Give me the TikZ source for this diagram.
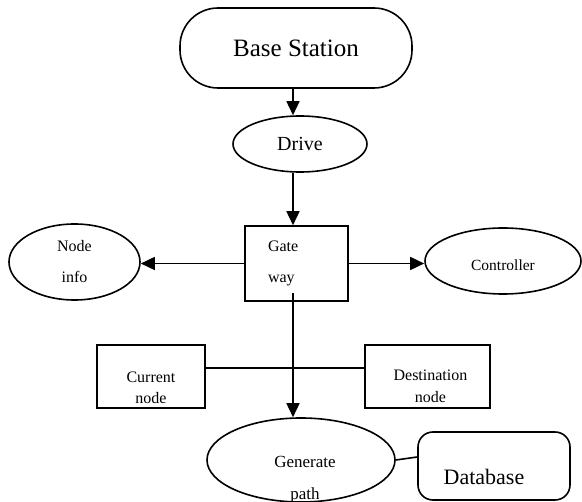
\documentclass[tikz,border=0pt]{standalone}
\usepackage{fontspec}
\setmainfont{Liberation Serif}
\usetikzlibrary{positioning,shapes.geometric,arrows.meta}

\begin{document}
\begin{tikzpicture}[x=1pt,y=1pt]
		\tikzstyle{every node}+=[inner sep=0pt]
		\tikzstyle{outline}=[draw=black, line width=1.6pt]
		\tikzstyle{oval}=[outline, ellipse]
		\tikzstyle{blk}=[outline, rectangle]
		\tikzstyle{link}=[draw=black, line width=1.6pt]
		\tikzstyle{arr}=[link, -{Triangle[length=14pt,width=13pt]}]
		\useasboundingbox (0,0) rectangle (582,-502);
		\clip (0,0) rectangle (582,-502);
		\coordinate (spine) at (293,0);
		\node [blk, rounded corners=38pt, minimum width=232pt, minimum height=80pt, font=\fontsize{25}{29}\selectfont] (base) at (296,-48) {Base Station};
		\node [oval, minimum width=134pt, minimum height=56pt, font=\fontsize{20}{24}\selectfont] (drive) at (300,-144) {Drive};
		\node [blk, minimum width=103pt, minimum height=75pt, text width=57pt, align=left, font=\fontsize{16}{31}\selectfont] (gate) at (296.5,-263.5) {Gate\\way};
		\node [oval, minimum width=131pt, minimum height=76pt, align=center, font=\fontsize{16}{31}\selectfont] (info) at (74.5,-262) {Node\\info};
		\node [oval, minimum width=156pt, minimum height=66pt, label={[yshift=-4pt, font=\fontsize{15.5}{18}\selectfont]center:Controller}] (ctrl) at (503,-261) {};
		\node [blk, minimum width=108pt, minimum height=63pt, label={[yshift=-11pt, align=center, font=\fontsize{16}{21}\selectfont]center:Current\\node}] (cur) at (151,-376.5) {};
		\node [blk, minimum width=125pt, minimum height=63pt, label={[xshift=3pt, yshift=-10pt, align=center, font=\fontsize{16}{22}\selectfont]center:Destination\\node}] (dest) at (427.5,-376.5) {};
		\node [oval, minimum width=188pt, minimum height=84pt, label={[xshift=4pt, yshift=-20pt, align=center, font=\fontsize{17}{32}\selectfont]center:Generate\\path}] (gen) at (301,-460) {};
		\node [blk, rounded corners=15pt, minimum width=152pt, minimum height=68pt, label={[xshift=-10pt, yshift=-11pt, font=\fontsize{22}{26}\selectfont]center:Database}] (db) at (494,-466) {};
		\draw [arr] (base.south -| spine) -- (drive.north -| spine);
		\draw [arr] (drive.south -| spine) -- (gate.north -| spine);
		\draw [arr] (gate.west) -- (gate.west -| info.east);
		\draw [arr] (gate.east) -- (gate.east -| ctrl.west);
		\draw [arr] ([yshift=9pt]gate.south -| spine) -- (gen.north -| spine);
		\draw [link] ([yshift=8.5pt]cur.east) -- ([yshift=8.5pt]cur.east -| dest.west);
		\draw [link] (gen.east) -- ([yshift=9pt]db.west);
\end{tikzpicture}
\end{document}
